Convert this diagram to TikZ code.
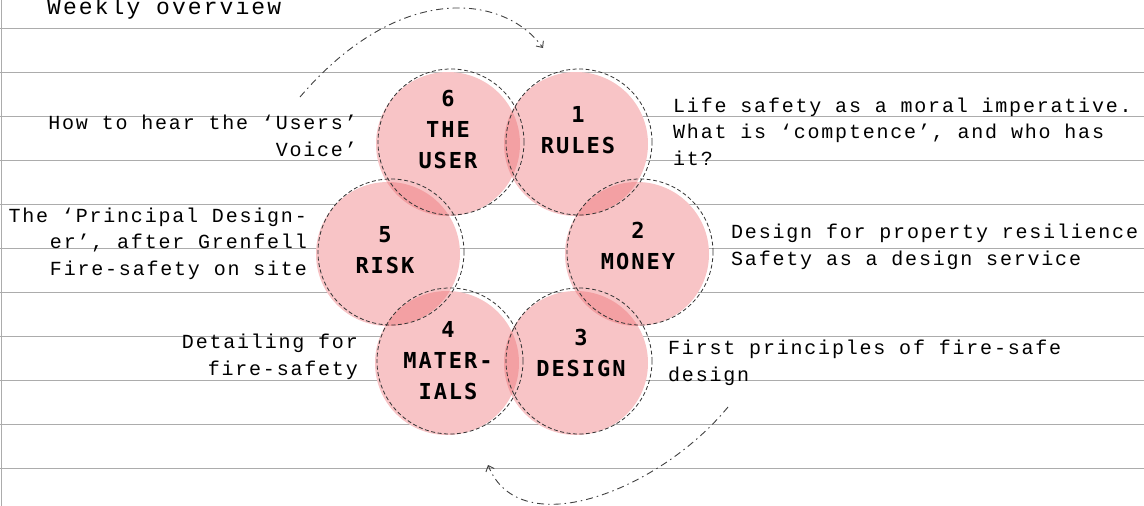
\documentclass[tikz,border=0pt]{standalone}
\usepackage{fontspec}
\setmainfont{Liberation Mono}[LetterSpace=9]
\newfontfamily\labelfont{DejaVu Sans Mono}[LetterSpace=9]
\usepackage{tikz}
\usetikzlibrary{positioning,arrows.meta}
\definecolor{topicpink}{RGB}{237,104,109}
\definecolor{rulegray}{RGB}{172,172,172}
\begin{document}
\begin{tikzpicture}[x=1pt, y=-1pt, >={Straight Barb[length=5pt,width=9pt]},
                    topicnode/.style={circle, minimum size=144pt, inner sep=0pt, fill=topicpink, fill opacity=0.39},
                    outlinenode/.style={circle, minimum size=146pt, inner sep=0pt, draw=black!80, line width=0.8pt, dash pattern=on 4pt off 2.5pt},
                    titlenode/.style={font=\labelfont\bfseries\fontsize{22}{31}\selectfont, align=center, inner sep=0pt},
                    notenode/.style={font=\fontsize{20}{26.5}\selectfont, inner sep=0pt},
                    loopline/.style={black!75, line width=0.9pt, dash pattern=on 7pt off 4pt on 1.5pt off 4pt}]
    \useasboundingbox (0,0) rectangle (1144,506);
    % ruled sheet
    \draw[rulegray, line width=1pt] (1,0) -- (1,506);
    \foreach \y in {28,72,...,468}
        \draw[rulegray, line width=1pt] (0,\y) -- (1144,\y);
    % the six topics
    \foreach \px/\py in {576/144, 637/254, 576/363, 447/363, 388/254, 448/144}
        \fill[white] (\px,\py) circle[radius=72pt];
    \node[topicnode] (c1) at (576,144) {};
    \node[topicnode] (c2) at (637,254) {};
    \node[topicnode] (c3) at (576,363) {};
    \node[topicnode] (c4) at (447,363) {};
    \node[topicnode] (c5) at (388,254) {};
    \node[topicnode] (c6) at (448,144) {};
    \foreach \n in {1,...,6}
        \node[outlinenode] (d\n) at ([shift={(3,-2)}]c\n) {};
    \node[titlenode] (l1) at (578,130) {1\\RULES};
    \node[titlenode] (l2) at (638,246) {2\\MONEY};
    \node[titlenode] (l3) at (581,353) {3\\DESIGN};
    \node[titlenode] (l4) at (448,361) {4\\MATER-\\IALS};
    \node[titlenode] (l5) at (385,250) {5\\RISK};
    \node[titlenode] (l6) at (448,130) {6\\THE\\USER};
    % notes
    \node[notenode, font=\fontsize{23}{27}\selectfont, anchor=base west] (title) at (47,14) {Weekly overview};
    \node[notenode, anchor=base west, align=left] (n1) at (673,165) {Life safety as a moral imperative.\\What is ‘comptence’, and who has\\it?};
    \node[notenode, anchor=base west, align=left] (n2) at (731,265) {Design for property resilience\\Safety as a design service};
    \node[notenode, anchor=base west, align=left] (n3) at (668,381) {First principles of fire-safe\\design};
    \node[notenode, anchor=base east, align=right] (n4) at (358,375) {Detailing for\\fire-safety};
    \node[notenode, anchor=base east, align=right] (n5) at (307,275) {The ‘Principal Design-\\er’, after Grenfell\\Fire-safety on site};
    \node[notenode, anchor=base east, align=right] (n6) at (357,156) {How to hear the ‘Users’\\Voice’};
    % week loop
    \coordinate (a1) at (300,97);
    \coordinate (b1) at (543,48);
    \coordinate (a2) at (728,407);
    \coordinate (b2) at (488,465);
    \draw[loopline, ->] (a1) .. controls (400,-20) and (505,-5) .. (b1);
    \draw[loopline, ->] (a2) .. controls (660,490) and (520,545) .. (b2);
\end{tikzpicture}
\end{document}
